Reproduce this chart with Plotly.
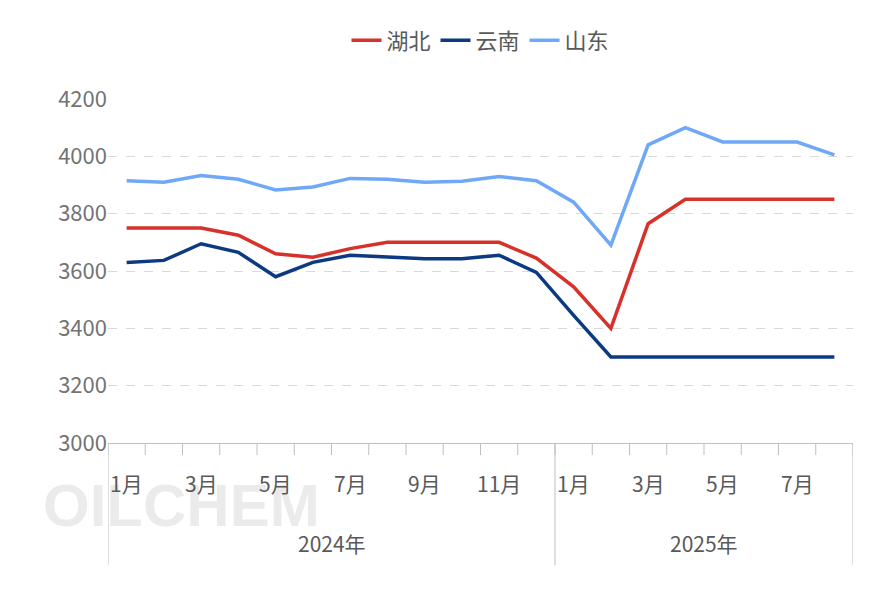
import plotly.graph_objects as go

months = ["1月", "2月", "3月", "4月", "5月", "6月", "7月", "8月", "9月", "10月", "11月", "12月",
          "1月", "2月", "3月", "4月", "5月", "6月", "7月", "8月"]
years = ["2024年", "2025年"]
hubei = [3750, 3750, 3750, 3725, 3660, 3648, 3678, 3700, 3700, 3700, 3700, 3645,
         3545, 3400, 3765, 3850, 3850, 3850, 3850, 3850]
yunnan = [3630, 3637, 3695, 3665, 3580, 3630, 3655, 3650, 3643, 3643, 3655, 3595,
          3445, 3300, 3300, 3300, 3300, 3300, 3300, 3300]
shandong = [3915, 3910, 3933, 3920, 3883, 3893, 3923, 3920, 3910, 3913, 3930, 3915,
            3840, 3690, 4040, 4100, 4050, 4050, 4050, 4005]

x = list(range(len(months)))
fig = go.Figure()
for name, vals, color in [("湖北", hubei, "#d7312a"), ("云南", yunnan, "#0b3a82"), ("山东", shandong, "#6fa8f7")]:
    fig.add_trace(go.Scatter(x=x, y=vals, name=name, mode="lines",
                             line=dict(color=color, width=3.5)))

font = "Noto Sans CJK SC"
shapes = []
annotations = []
n = len(months)
# tick marks between categories
for i in range(n + 1):
    shapes.append(dict(type="line", xref="x", yref="paper", x0=i - 0.5, x1=i - 0.5,
                       y0=0, y1=-0.035, line=dict(color="#bfbfbf", width=1)))
# year separators
for b in [-0.5, 11.5, 19.5]:
    shapes.append(dict(type="line", xref="x", yref="paper", x0=b, x1=b,
                       y0=0, y1=-0.355, line=dict(color="#bfbfbf", width=1)))
# faint watermark behind the axis labels
annotations.append(dict(x=-0.09, y=-0.285, xref="paper", yref="paper", xanchor="left",
                        text="<b>OILCHEM</b>", showarrow=False,
                        font=dict(size=60, color="rgba(190,190,190,0.3)", family="Liberation Sans")))
for i, m in enumerate(months):
    if i % 2 == 0:
        annotations.append(dict(x=i, y=-0.165, xref="x", yref="paper", text=m, showarrow=False,
                                font=dict(size=21, color="#595959", family=font)))
annotations.append(dict(x=5.5, y=-0.34, xref="x", yref="paper", text=years[0], showarrow=False,
                        font=dict(size=21, color="#595959", family=font)))
annotations.append(dict(x=15.5, y=-0.34, xref="x", yref="paper", text=years[1], showarrow=False,
                        font=dict(size=21, color="#595959", family=font)))

fig.update_layout(
    width=885, height=590, plot_bgcolor="white", paper_bgcolor="white",
    margin=dict(l=100, r=40, t=91, b=155, autoexpand=False),
    font=dict(family=font, color="#595959"),
    legend=dict(orientation="h", x=0.5, xanchor="center", y=1.17, yanchor="middle",
                font=dict(size=22)),
    xaxis=dict(range=[-0.5, n - 0.5], showticklabels=False, showgrid=False, zeroline=False,
               showline=True, linecolor="#bfbfbf"),
    yaxis=dict(range=[3000, 4200], dtick=200, showgrid=True, gridcolor="#d9d9d9", griddash="dash",
               tickfont=dict(size=22, color="#737373"), zeroline=False, ticks=""),
    shapes=shapes, annotations=annotations,
)
fig.write_html("out.html")
